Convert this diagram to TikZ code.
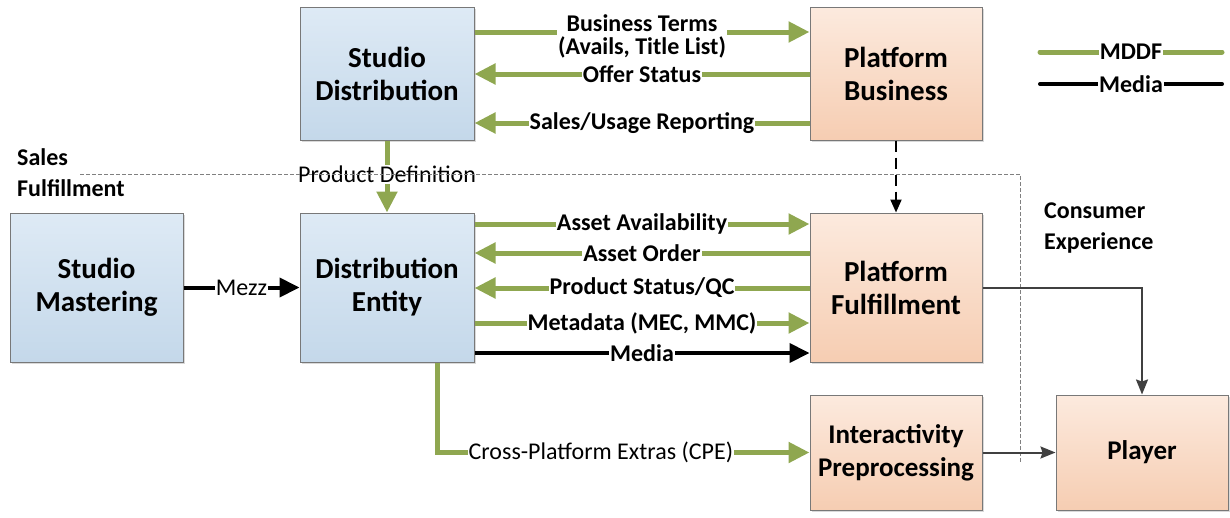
\documentclass[tikz,border=0pt]{standalone}
\usepackage{fontspec}
\setmainfont{Carlito}
\usetikzlibrary{arrows.meta,shadows}

\definecolor{mddfgreen}{RGB}{143,167,80}
\definecolor{boxedge}{RGB}{120,120,120}
\definecolor{bluetop}{RGB}{222,234,245}
\definecolor{bluebot}{RGB}{196,216,234}
\definecolor{orangetop}{RGB}{252,234,222}
\definecolor{orangebot}{RGB}{246,205,178}
\definecolor{feedgray}{RGB}{64,64,64}

\tikzset{
  box/.style={draw=boxedge, line width=1pt, align=center, inner sep=0pt,
    font=\fontsize{29}{33}\selectfont\bfseries,
    drop shadow={shadow xshift=2pt, shadow yshift=-2pt, fill=black, opacity=0.15}},
  studiobox/.style={box, top color=bluetop, bottom color=bluebot},
  platbox/.style={box, top color=orangetop, bottom color=orangebot},
  playbox/.style={platbox, font=\fontsize{27}{33}\selectfont\bfseries},
  lbl/.style={fill=white, inner sep=1pt, align=center,
    font=\fontsize{24}{23}\selectfont\bfseries},
  plainlbl/.style={lbl, font=\fontsize{24}{23}\selectfont},
  mddf/.style={draw=mddfgreen, line width=5pt, -{Triangle[length=21pt,width=20pt]}},
  media/.style={draw=black, line width=4pt, -{Triangle[length=20pt,width=19pt]}},
  feed/.style={draw=feedgray, line width=2pt, -{Stealth[length=15pt,width=12pt,inset=2pt]}},
  region/.style={draw=gray, line width=0.8pt, dash pattern=on 4pt off 2pt},
  zonelbl/.style={align=left, anchor=north west, inner sep=0pt,
    font=\fontsize{24}{31}\selectfont\bfseries}
}

\begin{document}
\begin{tikzpicture}[x=1pt, y=-1pt]
\useasboundingbox (0,0) rectangle (1230,517);

% boxes
\node [studiobox, minimum width=174pt, minimum height=133pt] (sd) at (387,73.5) {Studio\\Distribution};
\node [platbox, minimum width=172pt, minimum height=133pt] (pb) at (896,73.5) {Platform\\Business};
\node [studiobox, minimum width=173pt, minimum height=149pt] (sm) at (96.5,287.5) {Studio\\Mastering};
\node [studiobox, minimum width=174pt, minimum height=149pt] (de) at (387,287.5) {Distribution\\Entity};
\node [platbox, minimum width=172pt, minimum height=149pt] (pf) at (896,287.5) {Platform\\Fulfillment};
\node [playbox, minimum width=172pt, minimum height=115pt] (ip) at (896,452.5) {Interactivity\\Preprocessing};
\node [playbox, minimum width=172pt, minimum height=115pt] (pl) at (1142,452.5) {Player};

% zones
\node [zonelbl] (salesz) at (17,148) {Sales\\Fulfillment};
\node [zonelbl] (consz) at (1044,203) {Consumer\\Experience};

% business flows
\draw[mddf] (sd.east |- 0,32) -- node[lbl, yshift=-4pt]{Business Terms\\(Avails, Title List)} (pb.west |- 0,32);
\draw[mddf] (pb.west |- 0,74) -- node[lbl]{Offer Status} (sd.east |- 0,74);
\draw[mddf] (pb.west |- 0,123) -- node[lbl]{Sales/Usage Reporting} (sd.east |- 0,123);
\draw[mddf] (sd.south) -- node[plainlbl, pos=0.47]{Product Definition} (de.north);
\draw[draw=black, line width=2pt, dash pattern=on 11pt off 6pt, -{Triangle[length=13pt,width=11pt]}] (pb.south) -- (pf.north);

% region boundary
\coordinate (zstart) at (80,174);
\coordinate (zcorner) at (1020,174);
\coordinate (zend) at (1020,462);
\draw[region] (zstart) -- (zcorner) -- (zend);

% fulfillment flows
\draw[media] (sm.east) -- node[plainlbl]{Mezz} (de.west);
\draw[mddf] (de.east |- 0,224) -- node[lbl]{Asset Availability} (pf.west |- 0,224);
\draw[mddf] (pf.west |- 0,253) -- node[lbl]{Asset Order} (de.east |- 0,253);
\draw[mddf] (pf.west |- 0,288) -- node[lbl]{Product Status/QC} (de.east |- 0,288);
\draw[mddf] (de.east |- 0,323) -- node[lbl]{Metadata (MEC, MMC)} (pf.west |- 0,323);
\draw[media] (de.east |- 0,353) -- node[lbl]{Media} (pf.west |- 0,353);
\draw[mddf] (de.south -| 437,0) |- node[plainlbl, pos=0.72]{Cross-Platform Extras (CPE)} (ip.west);

% consumer side
\draw[feed] (pf.east) -| (pl.north);
\draw[feed] (ip.east) -- (pl.west);

% legend
\coordinate (lga) at (1040,52);
\coordinate (lgb) at (1222,52);
\coordinate (lma) at (1040,84);
\coordinate (lmb) at (1222,84);
\draw[mddf, -, line cap=round] (lga) -- node[lbl]{MDDF} (lgb);
\draw[media, -, line cap=round] (lma) -- node[lbl]{Media} (lmb);

\end{tikzpicture}
\end{document}
